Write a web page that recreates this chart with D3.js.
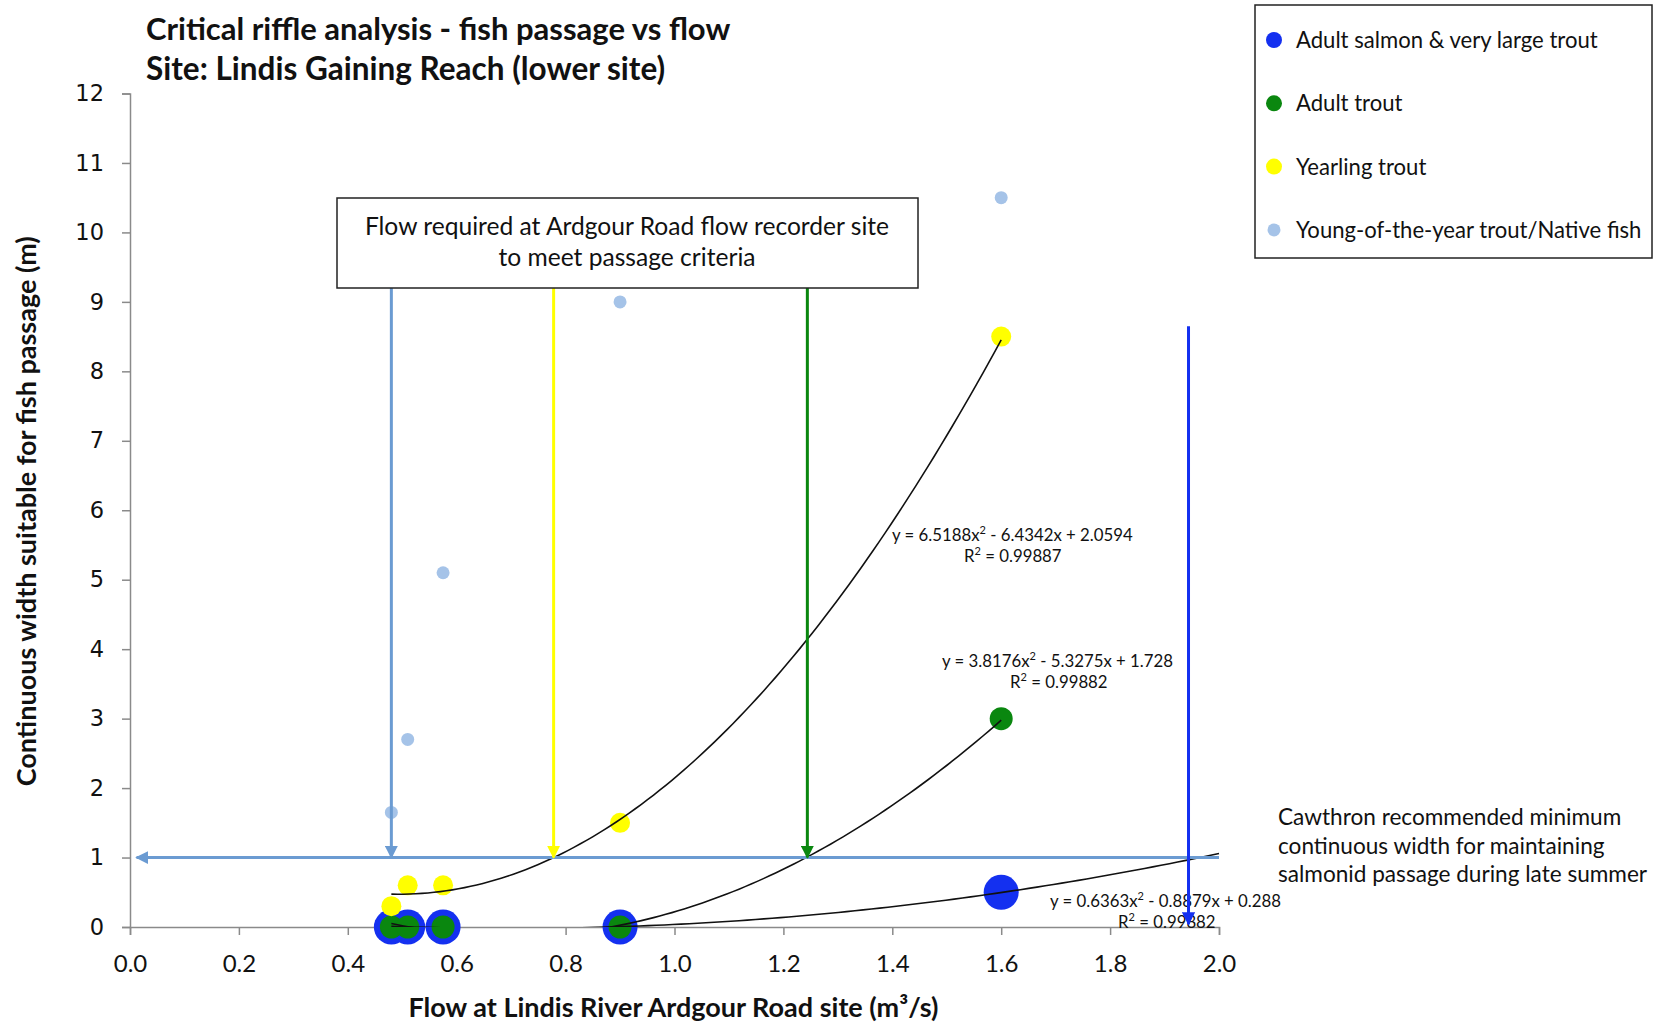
<!DOCTYPE html>
<html>
<head>
<meta charset="utf-8">
<script src="https://cdn.jsdelivr.net/npm/d3@7"></script>
<style>
  html, body { margin: 0; padding: 0; background: #fff; }
  svg { display: block; }
  text { font-family: Lato, "Open Sans", sans-serif; fill: #111; }
</style>
</head>
<body>
<svg id="chart" width="1654" height="1022"></svg>
<script>
// Sampled flows (m3/s) and the continuous passable width (m) for each fish group
const flows = [0.48, 0.51, 0.575, 0.90, 1.60];
const salmonWidth = [0, 0, 0, 0, 0.5];
const adultTroutWidth = [0, 0, 0, 0, 3.0];
const yearlingWidth = [0.3, 0.6, 0.6, 1.5, 8.5];
const youngOfYearWidth = [1.65, 2.7, 5.1, 9.0, 10.5];

// Quadratic trendlines (a, b, c) and the flow span each is drawn over
const salmonFit = [0.6363, -0.8879, 0.288];
const adultTroutFit = [3.8176, -5.3275, 1.728];
const yearlingFit = [6.5188, -6.4342, 2.0594];
const salmonFitSpan = [0.48, 2.0];
const adultTroutFitSpan = [0.48, 1.60];
const yearlingFitSpan = [0.48, 1.60];

// Flow needed to reach the 1 m passage criterion for each group
const criterionWidth = 1;
const requiredFlows = [0.48, 0.778, 1.244, 1.944];

const xTicks = [0, 0.2, 0.4, 0.6, 0.8, 1.0, 1.2, 1.4, 1.6, 1.8, 2.0];
const yTicks = [0, 1, 2, 3, 4, 5, 6, 7, 8, 9, 10, 11, 12];

const legendLabels = ["Adult salmon & very large trout", "Adult trout", "Yearling trout", "Young-of-the-year trout/Native fish"];

const C = {
  salmon: "#1430f0",
  trout: "#0a870f",
  yearling: "#ffff00",
  yoy: "#a5c3e8",
  criterion: "#6b9bd2",
  axis: "#8a8a8a"
};

const svg = d3.select("#chart");
const plotLeft = 130, plotRight = 1219, plotTop = 93.5, plotBottom = 927;

const x = d3.scaleLinear().domain([0, 2]).range([plotLeft, plotRight]);
const y = d3.scaleLinear().domain([0, 12]).range([plotBottom, plotTop]);

const defs = svg.append("defs");
// trendlines are clipped to the plotting area
defs.append("clipPath").attr("id", "plotClip")
  .append("rect").attr("x", plotLeft).attr("y", plotTop)
  .attr("width", plotRight - plotLeft + 20).attr("height", plotBottom - plotTop);

// arrowhead markers
function marker(id, color) {
  defs.append("marker")
    .attr("id", id)
    .attr("viewBox", "0 0 10 10")
    .attr("refX", 9).attr("refY", 5)
    .attr("markerWidth", 4.4).attr("markerHeight", 4.4)
    .attr("markerUnits", "strokeWidth")
    .attr("orient", "auto")
    .append("path").attr("d", "M0,0 L10,5 L0,10 Z").attr("fill", color);
}
marker("arrCrit", C.criterion);
marker("arrYellow", C.yearling);
marker("arrGreen", C.trout);
marker("arrBlue", C.salmon);

// title
svg.append("text").attr("x", 146).attr("y", 40)
  .style("font-weight", 700).style("font-size", "31px")
  .text("Critical riffle analysis - fish passage vs flow");
svg.append("text").attr("x", 146).attr("y", 80)
  .style("font-weight", 700).style("font-size", "31.5px")
  .text("Site: Lindis Gaining Reach (lower site)");

// axes
const yAxis = svg.append("g").attr("transform", `translate(${plotLeft},0)`)
  .call(d3.axisLeft(y).tickValues(yTicks).tickSize(8).tickPadding(18).tickFormat(d3.format("d")));
const xAxis = svg.append("g").attr("transform", `translate(0,${plotBottom})`)
  .call(d3.axisBottom(x).tickValues(xTicks).tickSize(8).tickPadding(20).tickFormat(d3.format(".1f")));
[yAxis, xAxis].forEach(g => {
  g.select(".domain").attr("stroke", C.axis).attr("stroke-width", 1.5);
  g.selectAll(".tick line").attr("stroke", C.axis).attr("stroke-width", 1.5);
});
yAxis.selectAll(".tick text")
  .style("font-family", "'DejaVu Sans', Verdana, sans-serif")
  .style("font-size", "22.5px").attr("fill", "#111");
xAxis.selectAll(".tick text")
  .style("font-family", "Lato, sans-serif")
  .style("font-size", "24px").attr("fill", "#111");

// axis titles
svg.append("text")
  .attr("x", (plotLeft + plotRight) / 2 - 1).attr("y", 1017)
  .attr("text-anchor", "middle")
  .style("font-weight", 700).style("font-size", "27px")
  .text("Flow at Lindis River Ardgour Road site (m³/s)");
svg.append("text")
  .attr("transform", `translate(36,${(plotTop + plotBottom) / 2 + 1}) rotate(-90)`)
  .attr("text-anchor", "middle")
  .style("font-weight", 700).style("font-size", "27px")
  .text("Continuous width suitable for fish passage (m)");

// markers for each group, largest underneath
const points = flows.map((f, i) => ({ f, s: salmonWidth[i], t: adultTroutWidth[i], yl: yearlingWidth[i], yy: youngOfYearWidth[i] }));
const dots = svg.append("g");
dots.selectAll(".salmon").data(points).join("circle").attr("class", "salmon")
  .attr("cx", d => x(d.f)).attr("cy", d => y(d.s)).attr("r", 17.5).attr("fill", C.salmon);
dots.selectAll(".trout").data(points).join("circle").attr("class", "trout")
  .attr("cx", d => x(d.f)).attr("cy", d => y(d.t)).attr("r", 11.5).attr("fill", C.trout);
dots.selectAll(".yearling").data(points).join("circle").attr("class", "yearling")
  .attr("cx", d => x(d.f)).attr("cy", d => y(d.yl)).attr("r", 10).attr("fill", C.yearling);
dots.selectAll(".yoy").data(points).join("circle").attr("class", "yoy")
  .attr("cx", d => x(d.f)).attr("cy", d => y(d.yy)).attr("r", 6.5).attr("fill", C.yoy);

// trendlines
const poly = c => v => c[0] * v * v + c[1] * v + c[2];
const line = d3.line().x(d => x(d[0])).y(d => y(d[1]));
const trends = svg.append("g").attr("clip-path", "url(#plotClip)");
[[salmonFit, salmonFitSpan], [adultTroutFit, adultTroutFitSpan], [yearlingFit, yearlingFitSpan]].forEach(([c, span]) => {
  const f = poly(c);
  const pts = d3.range(0, 101).map(k => {
    const v = span[0] + (span[1] - span[0]) * k / 100;
    return [v, f(v)];
  });
  trends.append("path").attr("d", line(pts)).attr("fill", "none")
    .attr("stroke", "#111").attr("stroke-width", 1.6);
});

// trendline equations
const eqStyle = s => s.style("font-size", "16.8px").style("font-family", "Lato, sans-serif");
function equation(xv, yv, eq, r2, r2dx) {
  const g = svg.append("g");
  const t1 = g.append("text").attr("x", xv).attr("y", yv).call(eqStyle);
  t1.append("tspan").text(eq[0]);
  t1.append("tspan").attr("dy", -7).style("font-size", "11px").text("2");
  t1.append("tspan").attr("dy", 7).text(eq[1]);
  const t2 = g.append("text").attr("x", xv + r2dx).attr("y", yv + 21).call(eqStyle);
  t2.append("tspan").text("R");
  t2.append("tspan").attr("dy", -7).style("font-size", "11px").text("2");
  t2.append("tspan").attr("dy", 7).text(" = " + r2);
}
equation(892, 541, ["y = 6.5188x", " - 6.4342x + 2.0594"], "0.99887", 72);
equation(942, 667, ["y = 3.8176x", " - 5.3275x + 1.728"], "0.99882", 68);
equation(1050, 907, ["y = 0.6363x", " - 0.8879x + 0.288"], "0.99882", 68);

// 1 m passage criterion line
svg.append("line")
  .attr("x1", x(2.0)).attr("y1", y(criterionWidth))
  .attr("x2", x(0.012)).attr("y2", y(criterionWidth))
  .attr("stroke", C.criterion).attr("stroke-width", 3)
  .attr("marker-end", "url(#arrCrit)");

// vertical arrows from the callout down to the criterion
const boxTopWidth = y.invert(288);
const arrowSpecs = [
  { f: requiredFlows[0], from: boxTopWidth, to: criterionWidth, color: C.criterion, m: "arrCrit" },
  { f: requiredFlows[1], from: boxTopWidth, to: criterionWidth, color: C.yearling, m: "arrYellow" },
  { f: requiredFlows[2], from: boxTopWidth, to: criterionWidth, color: C.trout, m: "arrGreen" },
  { f: requiredFlows[3], from: 8.65, to: 0.04, color: C.salmon, m: "arrBlue" }
];
arrowSpecs.forEach(a => {
  svg.append("line")
    .attr("x1", x(a.f)).attr("y1", y(a.from))
    .attr("x2", x(a.f)).attr("y2", y(a.to))
    .attr("stroke", a.color).attr("stroke-width", 3)
    .attr("marker-end", `url(#${a.m})`);
});

// callout box
svg.append("rect").attr("x", 337).attr("y", 198).attr("width", 581).attr("height", 90)
  .attr("fill", "#fff").attr("stroke", "#222").attr("stroke-width", 1.5);
svg.append("text").attr("x", 627).attr("y", 235).attr("text-anchor", "middle")
  .style("font-size", "24.6px").text("Flow required at Ardgour Road flow recorder site");
svg.append("text").attr("x", 627).attr("y", 266).attr("text-anchor", "middle")
  .style("font-size", "24.6px").text("to meet passage criteria");

// criterion note
["Cawthron recommended minimum", "continuous width for maintaining", "salmonid passage during late summer"]
  .forEach((t, i) => svg.append("text").attr("x", 1278).attr("y", 825 + i * 28.5)
    .style("font-size", "22.6px").text(t));

// legend
svg.append("rect").attr("x", 1255).attr("y", 5).attr("width", 397).attr("height", 253)
  .attr("fill", "#fff").attr("stroke", "#222").attr("stroke-width", 1.5);
const legendColors = [C.salmon, C.trout, C.yearling, C.yoy];
const legendR = [8, 8, 8, 6.5];
legendLabels.forEach((lab, i) => {
  const cy = 40 + i * 63.3;
  svg.append("circle").attr("cx", 1274).attr("cy", cy).attr("r", legendR[i]).attr("fill", legendColors[i]);
  svg.append("text").attr("x", 1296).attr("y", cy + 8).style("font-size", "22.1px").text(lab);
});
</script>
</body>
</html>
